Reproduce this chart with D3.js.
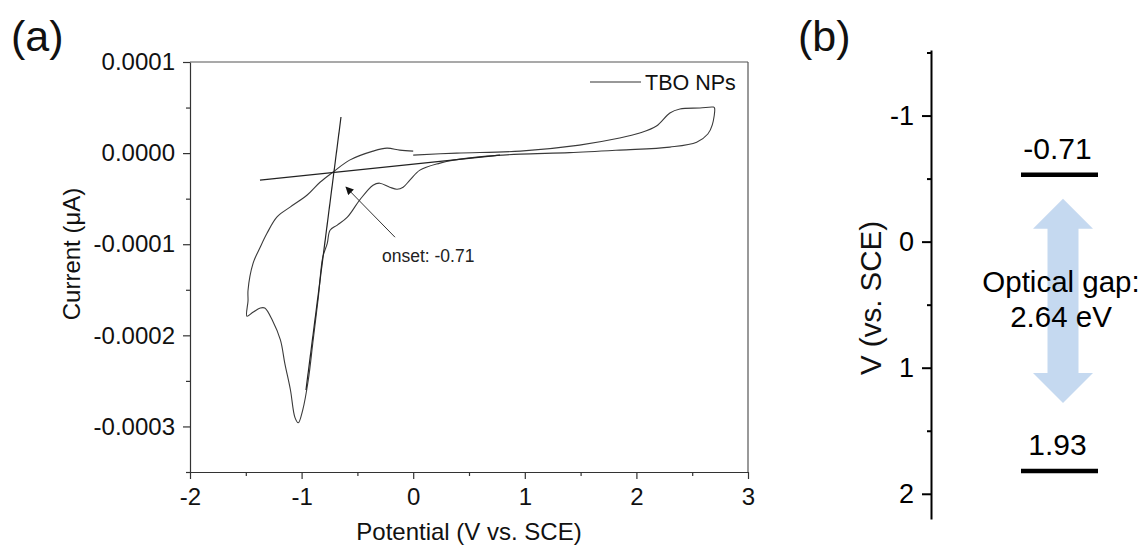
<!DOCTYPE html>
<html>
<head>
<meta charset="utf-8">
<script src="https://cdn.jsdelivr.net/npm/d3@7"></script>
<style>
  body { margin: 0; background: #fff; }
  svg { font-family: "Liberation Sans", Arial, Helvetica, sans-serif; }
</style>
</head>
<body>
<svg id="chart" width="1146" height="550"></svg>
<script>
// ---- panel (a): cyclic voltammogram, potential (V) vs current ----
var cvPotential = [
  0.00, 0.39, 0.96, 1.49, 1.85, 2.03, 2.18, 2.30, 2.39, 2.57, 2.69, 2.70,
  2.68, 2.64, 2.54, 2.30, 1.85, 1.40, 0.96, 0.66, 0.36, 0.24, 0.06, -0.03,
  -0.09, -0.145, -0.21, -0.30, -0.36, -0.48, -0.59, -0.68, -0.745, -0.77,
  -0.81, -0.85, -0.90, -0.94, -0.99, -1.03, -1.06, -1.10, -1.15, -1.19,
  -1.26, -1.33, -1.37, -1.44, -1.49, -1.48, -1.48, -1.435, -1.37, -1.31,
  -1.22, -1.10, -0.95, -0.835, -0.72, -0.57, -0.36, -0.235, -0.12, 0.00
];
var cvCurrent = [
  -2.2e-6, 0.0, 2.2e-6, 8.8e-6, 1.65e-5, 2.2e-5, 2.97e-5, 4.4e-5, 4.84e-5, 4.95e-5, 5.05e-5, 4.95e-5,
  3.1e-5, 2.1e-5, 1.2e-5, 6.6e-6, 3.3e-6, 5e-7, -1.1e-6, -3.3e-6, -7.7e-6, -1.1e-5, -1.87e-5, -2.97e-5,
  -3.74e-5, -3.96e-5, -3.74e-5, -3.3e-5, -3.52e-5, -5.16e-5, -7.03e-5, -7.9e-5, -8.46e-5, -9.9e-5,
  -1.14e-4, -1.58e-4, -2.09e-4, -2.49e-4, -2.82e-4, -2.96e-4, -2.90e-4, -2.60e-4, -2.31e-4, -2.05e-4,
  -1.84e-4, -1.70e-4, -1.70e-4, -1.75e-4, -1.79e-4, -1.62e-4, -1.505e-4, -1.21e-4, -1.03e-4, -8.8e-5,
  -7.0e-5, -5.9e-5, -4.6e-5, -3.2e-5, -2.1e-5, -7.7e-6, 2.2e-6, 5.5e-6, 3.3e-6, 2.2e-6
];
// onset tangents [potential, current]
var baseTangent = [[-1.373, -2.97e-5], [0.778, -2.2e-6]];
var riseTangent = [[-0.647, 3.96e-5], [-0.961, -2.6e-4]];
var onsetArrow = [[-0.163, -9.23e-5], [-0.602, -3.74e-5]];
var onsetLabel = { v: -0.28, i: -1.2e-4, text: "onset: -0.71" };

var xTicks = [-2, -1, 0, 1, 2, 3];
var xMinor = [-1.5, -0.5, 0.5, 1.5, 2.5];
var yTicks = [0.0001, 0, -0.0001, -0.0002, -0.0003];
var yMinor = [0.00005, -0.00005, -0.00015, -0.00025, -0.00035];

// ---- panel (b): energy levels ----
var levelLabels = ["-0.71", "1.93"];
var levelPos = [-0.53, 1.82];       // where the bars sit on the axis
var gapArrow = [-0.34, 1.28];       // arrow tips
var gapText = ["Optical gap:", "2.64 eV"];
var bTicks = [-1, 0, 1, 2];
var bMinor = [-1.5, -0.5, 0.5, 1.5];

var svg = d3.select("#chart");
svg.append("rect").attr("width", 1146).attr("height", 550).attr("fill", "#fff");

var x = d3.scaleLinear().domain([-2, 3]).range([190, 748]);
var y = d3.scaleLinear().domain([-0.00035, 0.0001]).range([472, 62]);

var ga = svg.append("g");

// frame top / right
ga.append("line").attr("x1", x(-2)).attr("x2", x(3)).attr("y1", y(0.0001)).attr("y2", y(0.0001))
  .attr("stroke", "#555").attr("stroke-width", 1.2);
ga.append("line").attr("x1", x(3)).attr("x2", x(3)).attr("y1", y(0.0001)).attr("y2", y(-0.00035))
  .attr("stroke", "#555").attr("stroke-width", 1.2);

ga.append("g").attr("transform", "translate(0," + y(-0.00035) + ")")
  .call(d3.axisBottom(x).tickValues(xTicks).tickSize(7).tickSizeOuter(0).tickPadding(9)
    .tickFormat(function (d) { return String(d); }));
ga.append("g").attr("transform", "translate(0," + y(-0.00035) + ")")
  .call(d3.axisBottom(x).tickValues(xMinor).tickSize(4).tickSizeOuter(0).tickFormat(""))
  .select(".domain").remove();

ga.append("g").attr("transform", "translate(" + x(-2) + ",0)")
  .call(d3.axisLeft(y).tickValues(yTicks).tickSize(7).tickSizeOuter(0).tickPadding(8)
    .tickFormat(function (d) { return d.toFixed(4); }));
ga.append("g").attr("transform", "translate(" + x(-2) + ",0)")
  .call(d3.axisLeft(y).tickValues(yMinor).tickSize(4).tickSizeOuter(0).tickFormat(""))
  .select(".domain").remove();

ga.selectAll(".domain, .tick line").attr("stroke", "#333").attr("stroke-width", 1.2);
ga.selectAll(".tick text").attr("font-size", 24).attr("fill", "#111")
  .attr("font-family", "'Liberation Sans', Arial, sans-serif");

// CV curve
var cvData = cvPotential.map(function (v, k) { return [v, cvCurrent[k]]; });
var line = d3.line().x(function (d) { return x(d[0]); }).y(function (d) { return y(d[1]); });
ga.append("path").datum(cvData)
  .attr("d", line.curve(d3.curveCatmullRom.alpha(0.5)))
  .attr("fill", "none").attr("stroke", "#3a3a3a").attr("stroke-width", 1.1);

var straight = d3.line().x(function (d) { return x(d[0]); }).y(function (d) { return y(d[1]); });
[baseTangent, riseTangent].forEach(function (t) {
  ga.append("path").datum(t).attr("d", straight)
    .attr("fill", "none").attr("stroke", "#222").attr("stroke-width", 1.2);
});

// onset arrow
svg.append("defs").append("marker").attr("id", "ah")
  .attr("viewBox", "0 0 10 10").attr("refX", 9).attr("refY", 5)
  .attr("markerWidth", 10).attr("markerHeight", 8).attr("markerUnits", "userSpaceOnUse")
  .attr("orient", "auto")
  .append("path").attr("d", "M0,0 L10,5 L0,10 z").attr("fill", "#111");
ga.append("path").datum(onsetArrow).attr("d", straight)
  .attr("stroke", "#333").attr("stroke-width", 1).attr("fill", "none")
  .attr("marker-end", "url(#ah)");
ga.append("text").attr("x", x(onsetLabel.v)).attr("y", y(onsetLabel.i))
  .attr("font-size", 17.5).attr("fill", "#222").text(onsetLabel.text);

// legend
ga.append("line").attr("x1", 590).attr("x2", 641).attr("y1", 82).attr("y2", 82)
  .attr("stroke", "#333").attr("stroke-width", 1.1);
ga.append("text").attr("x", 645).attr("y", 90).attr("font-size", 21.5).attr("fill", "#111").text("TBO NPs");

// axis titles
ga.append("text").attr("x", x(0.5)).attr("y", 540).attr("text-anchor", "middle")
  .attr("font-size", 24).attr("fill", "#111").text("Potential (V vs. SCE)");
ga.append("text").attr("transform", "translate(80,254) rotate(-90)").attr("text-anchor", "middle")
  .attr("font-size", 24).attr("fill", "#111").text("Current (\u03bcA)");

svg.append("text").attr("x", 11).attr("y", 51).attr("font-size", 43).attr("fill", "#111").text("(a)");

// ---- panel (b) ----
var yb = d3.scaleLinear().domain([-1.52, 2.2]).range([50, 519]);
var lx = d3.scaleLinear().domain([0, 1]).range([1021, 1098]);
var gb = svg.append("g");

gb.append("g").attr("transform", "translate(931,0)")
  .call(d3.axisLeft(yb).tickValues(bTicks).tickSize(9).tickSizeOuter(0).tickPadding(8)
    .tickFormat(function (d) { return String(d); }));
gb.append("g").attr("transform", "translate(931,0)")
  .call(d3.axisLeft(yb).tickValues(bMinor).tickSize(4).tickSizeOuter(0).tickFormat(""))
  .select(".domain").remove();
gb.selectAll(".domain, .tick line").attr("stroke", "#000").attr("stroke-width", 2);
gb.selectAll(".tick text").attr("font-size", 27).attr("fill", "#000")
  .attr("font-family", "'Liberation Sans', Arial, sans-serif");

gb.append("text").attr("transform", "translate(881,298) rotate(-90)").attr("text-anchor", "middle")
  .attr("font-size", 29.5).attr("fill", "#111").text("V (vs. SCE)");

// gap arrow
var ax = 1063, shaft = 15.5, head = 30, headLen = 30;
var t = yb(gapArrow[0]), b = yb(gapArrow[1]);
var arrowPts = [
  [ax, t], [ax + head, t + headLen], [ax + shaft, t + headLen], [ax + shaft, b - headLen],
  [ax + head, b - headLen], [ax, b], [ax - head, b - headLen], [ax - shaft, b - headLen],
  [ax - shaft, t + headLen], [ax - head, t + headLen]
];
gb.append("polygon").attr("points", arrowPts.map(function (p) { return p.join(","); }).join(" "))
  .attr("fill", "#c5d9f0");

gb.selectAll(".level").data(levelPos).enter().append("line")
  .attr("x1", lx(0)).attr("x2", lx(1))
  .attr("y1", function (d) { return yb(d); }).attr("y2", function (d) { return yb(d); })
  .attr("stroke", "#000").attr("stroke-width", 4.5);
gb.selectAll(".levelText").data(levelPos).enter().append("text")
  .attr("x", lx(0.5) - 2).attr("y", function (d) { return yb(d) - 16; })
  .attr("text-anchor", "middle").attr("font-size", 30).attr("fill", "#000")
  .text(function (d, k) { return levelLabels[k]; });

gb.selectAll(".gapText").data(gapText).enter().append("text")
  .attr("x", 1061).attr("y", function (d, k) { return 292 + k * 35; })
  .attr("text-anchor", "middle").attr("font-size", 29.5).attr("fill", "#000")
  .text(function (d) { return d; });

svg.append("text").attr("x", 798).attr("y", 51).attr("font-size", 43).attr("fill", "#111").text("(b)");
</script>
</body>
</html>
